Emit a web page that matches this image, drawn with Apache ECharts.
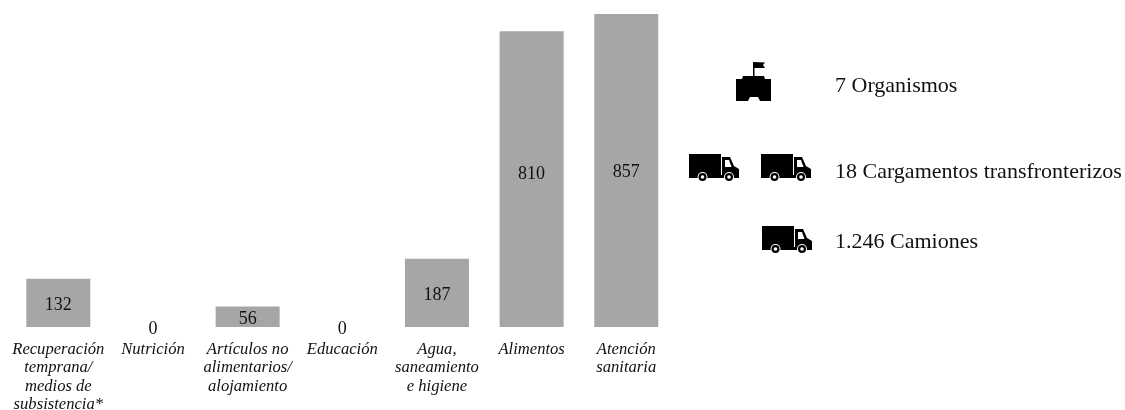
<!DOCTYPE html>
<html style="height: 100%">
 <head>
  <meta charset="utf-8" />
  <script src="https://cdn.jsdelivr.net/npm/echarts@6/dist/echarts.min.js"></script>
 </head>
 <body style="height: 100%; margin: 0; background: #fff">
  <div id="main" style="width:1125px;height:410px;"></div>
  <script type="text/javascript">
   var categories = [
     'Recuperación\ntemprana/\nmedios de\nsubsistencia*',
     'Nutrición',
     'Artículos no\nalimentarios/\nalojamiento',
     'Educación',
     'Agua,\nsaneamiento\ne higiene',
     'Alimentos',
     'Atención\nsanitaria'
   ];
   var values = [132, 0, 56, 0, 187, 810, 857];
   var summaryTexts = ['7 Organismos', '18 Cargamentos transfronterizos', '1.246 Camiones'];

   var font = '"Liberation Serif", "Times New Roman", serif';
   var black = { fill: '#000' };
   var white = { fill: '#fff' };

   // truck icon, drawn in a 50x27 box
   function truck(x, y) {
     return {
       type: 'group', x: x, y: y,
       children: [
         { type: 'rect', shape: { x: 0, y: 0, width: 32, height: 21 }, style: black },
         { type: 'polygon', shape: { points: [[33, 3], [41, 3], [45, 12], [50, 15], [50, 24], [0, 24], [0, 21], [33, 21]] }, style: black },
         { type: 'polygon', shape: { points: [[36, 6], [40, 6], [42.5, 13], [36, 13]] }, style: white },
         { type: 'circle', shape: { cx: 13.5, cy: 23, r: 5 }, style: white },
         { type: 'circle', shape: { cx: 13.5, cy: 23, r: 4 }, style: black },
         { type: 'circle', shape: { cx: 13.5, cy: 23, r: 1.8 }, style: white },
         { type: 'circle', shape: { cx: 40, cy: 23, r: 5 }, style: white },
         { type: 'circle', shape: { cx: 40, cy: 23, r: 4 }, style: black },
         { type: 'circle', shape: { cx: 40, cy: 23, r: 1.8 }, style: white }
       ]
     };
   }

   // building with flag, 35x39 box
   function building(x, y) {
     return {
       type: 'group', x: x, y: y,
       children: [
         { type: 'polygon', shape: { points: [[0, 39], [0, 17], [6, 17], [7, 14], [28, 14], [29, 17], [35, 17], [35, 39], [24, 39], [22, 35], [14, 35], [12, 39]] }, style: black },
         { type: 'rect', shape: { x: 17, y: 0, width: 1.5, height: 14 }, style: black },
         { type: 'polygon', shape: { points: [[17, 0], [29, 0.5], [27, 3], [29, 6], [17, 6]] }, style: black }
       ]
     };
   }

   function summary(i, y) {
     return {
       type: 'text', x: 835, y: y,
       style: {
         text: summaryTexts[i], font: '22px ' + font, fill: '#111',
         textAlign: 'left', textVerticalAlign: 'middle'
       }
     };
   }

   var myChart = echarts.init(document.getElementById('main'));
   var option = {
     animation: false,
     grid: { left: 11, width: 662.6, top: 14, height: 313, outerBoundsMode: 'none' },
     xAxis: {
       type: 'category',
       data: categories,
       axisLine: { show: false },
       axisTick: { show: false },
       axisLabel: {
         interval: 0, margin: 13, hideOverlap: false,
         fontFamily: font, fontStyle: 'italic', fontSize: 16.6,
         lineHeight: 18.6, color: '#111', align: 'center'
       }
     },
     yAxis: { type: 'value', min: 0, max: 857, show: false },
     series: [{
       type: 'bar',
       // the 810 label sits a little above the middle of its bar
       data: values.map(function (v) {
         return v === 810 ? { value: v, label: { offset: [0, -5] } } : v;
       }),
       barWidth: 64,
       itemStyle: { color: '#a6a6a6' },
       label: {
         show: true, position: 'inside', offset: [0, 2],
         fontFamily: font, fontSize: 18, color: '#111'
       }
     }],
     graphic: [
       building(736, 62),
       truck(689, 154),
       truck(761, 154),
       truck(762, 226),
       summary(0, 86),
       summary(1, 172),
       summary(2, 242)
     ]
   };
   myChart.setOption(option);
  </script>
 </body>
</html>
